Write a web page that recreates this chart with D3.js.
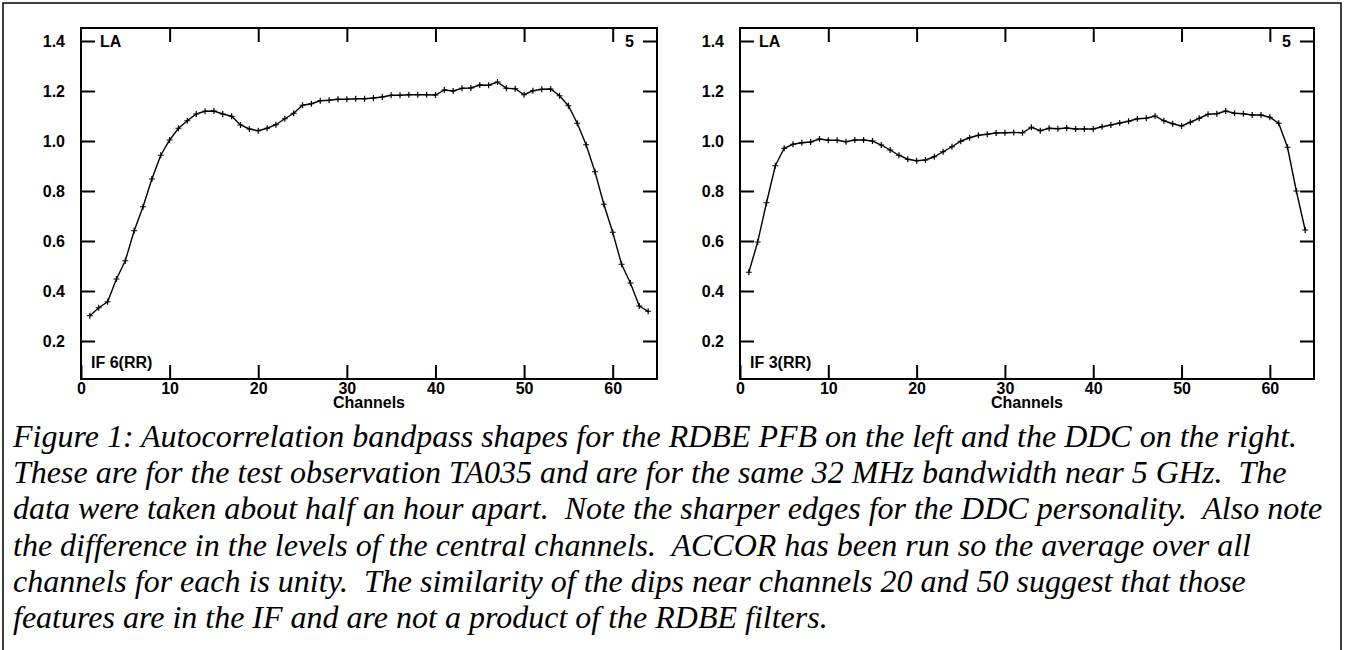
<!DOCTYPE html>
<html>
<head>
<meta charset="utf-8">
<script src="https://cdn.jsdelivr.net/npm/d3@7"></script>
<style>
  body { margin: 0; background: #fff; }
  svg { display: block; }
  .tick text { font-family: "Liberation Sans", Arial, sans-serif; font-weight: bold; font-size: 16px; fill: #000; }
  .tick line { stroke: #000; stroke-width: 2; }
  .lbl { font-family: "Liberation Sans", Arial, sans-serif; font-weight: bold; font-size: 16px; fill: #000; }
  .caption { font-family: "Liberation Serif", "Times New Roman", serif; font-style: italic; font-size: 32px; fill: #000; white-space: pre; }
</style>
</head>
<body>
<div id="vis"></div>
<script>
// Data ----------------------------------------------------------------------

var channels = d3.range(1, 65);

// IF 6 (RR), RDBE PFB
var pfbValues = [
  0.301, 0.333, 0.357, 0.448, 0.521, 0.641, 0.737, 0.848, 0.943, 1.004,
  1.051, 1.081, 1.108, 1.119, 1.120, 1.108, 1.099, 1.064, 1.048, 1.041,
  1.051, 1.065, 1.089, 1.111, 1.143, 1.149, 1.161, 1.163, 1.167, 1.167,
  1.169, 1.169, 1.172, 1.176, 1.183, 1.183, 1.185, 1.185, 1.185, 1.184,
  1.204, 1.200, 1.211, 1.212, 1.224, 1.223, 1.236, 1.211, 1.209, 1.185,
  1.201, 1.207, 1.208, 1.181, 1.141, 1.071, 0.985, 0.877, 0.747, 0.635,
  0.507, 0.432, 0.340, 0.319
];

// IF 3 (RR), DDC
var ddcValues = [
  0.475, 0.596, 0.753, 0.901, 0.971, 0.987, 0.993, 0.996, 1.008, 1.003,
  1.003, 0.997, 1.004, 1.004, 1.000, 0.984, 0.964, 0.943, 0.927, 0.921,
  0.924, 0.937, 0.957, 0.977, 0.999, 1.013, 1.023, 1.027, 1.032, 1.033,
  1.034, 1.033, 1.055, 1.041, 1.051, 1.049, 1.052, 1.048, 1.048, 1.048,
  1.057, 1.064, 1.072, 1.079, 1.089, 1.091, 1.100, 1.081, 1.069, 1.060,
  1.075, 1.091, 1.107, 1.109, 1.120, 1.111, 1.109, 1.104, 1.104, 1.095,
  1.071, 0.975, 0.800, 0.644
];

var xTicks = [0, 10, 20, 30, 40, 50, 60];
var yTicks = [0.2, 0.4, 0.6, 0.8, 1.0, 1.2, 1.4];

var captionLines = [
  "Figure 1: Autocorrelation bandpass shapes for the RDBE PFB on the left and the DDC on the right.",
  "These are for the test observation TA035 and are for the same 32 MHz bandwidth near 5 GHz.  The",
  "data were taken about half an hour apart.  Note the sharper edges for the DDC personality.  Also note",
  "the difference in the levels of the central channels.  ACCOR has been run so the average over all",
  "channels for each is unity.  The similarity of the dips near channels 20 and 50 suggest that those",
  "features are in the IF and are not a product of the RDBE filters."
];

// Setup ---------------------------------------------------------------------

var width = 1345, height = 650;

var svg = d3.select("#vis").append("svg")
  .attr("width", width)
  .attr("height", height);

// outer frame (open at the bottom)
svg.append("path")
  .attr("d", "M3,650 V3 H1341 V650")
  .attr("fill", "none")
  .attr("stroke", "#000")
  .attr("stroke-width", 1.5);

var plotTop = 28, plotBottom = 379;

var panels = [
  {left: 81, right: 657, values: pfbValues, name: "IF 6(RR)"},
  {left: 740, right: 1314, values: ddcValues, name: "IF 3(RR)"}
];

// Draw panels ---------------------------------------------------------------

function drawPanel(p) {

  var x = d3.scaleLinear().domain([0, 65]).range([p.left, p.right]);
  var y = d3.scaleLinear().domain([0.048, 1.452]).range([plotBottom, plotTop]);

  var g = svg.append("g");

  g.append("g")
    .attr("transform", "translate(" + p.left + ",0)")
    .call(d3.axisLeft(y).tickValues(yTicks).tickSize(-14).tickPadding(16)
      .tickFormat(d3.format(".1f")));

  g.append("g")
    .attr("transform", "translate(" + p.right + ",0)")
    .call(d3.axisRight(y).tickValues(yTicks).tickSize(-14).tickFormat(""));

  g.append("g")
    .attr("transform", "translate(0," + plotBottom + ")")
    .call(d3.axisBottom(x).tickValues(xTicks).tickSize(-14).tickPadding(4)
      .tickFormat(d3.format("d")));

  g.append("g")
    .attr("transform", "translate(0," + plotTop + ")")
    .call(d3.axisTop(x).tickValues(xTicks.slice(1)).tickSize(-14).tickFormat(""));

  g.selectAll(".domain").remove();

  g.append("rect")
    .attr("x", p.left)
    .attr("y", plotTop)
    .attr("width", p.right - p.left)
    .attr("height", plotBottom - plotTop)
    .attr("fill", "none")
    .attr("stroke", "#000")
    .attr("stroke-width", 2);

  // labels
  g.append("text").attr("class", "lbl")
    .attr("x", p.left + 19).attr("y", y(1.4) + 6)
    .text("LA");

  g.append("text").attr("class", "lbl")
    .attr("x", p.right - 23).attr("y", y(1.4) + 6)
    .attr("text-anchor", "end")
    .text("5");

  g.append("text").attr("class", "lbl")
    .attr("x", p.left + 10).attr("y", plotBottom - 11)
    .text(p.name);

  g.append("text").attr("class", "lbl")
    .attr("x", (p.left + p.right) / 2).attr("y", plotBottom + 29)
    .attr("text-anchor", "middle")
    .text("Channels");

  // data
  var line = d3.line()
    .x(function(d, i) { return x(channels[i]); })
    .y(function(d) { return y(d); });

  g.append("path")
    .datum(p.values)
    .attr("d", line)
    .attr("fill", "none")
    .attr("stroke", "#000")
    .attr("stroke-width", 1.4);

  g.selectAll(".mark")
    .data(p.values)
    .enter()
    .append("path")
    .attr("class", "mark")
    .attr("d", function(d, i) {
      var cx = x(channels[i]), cy = y(d);
      return "M" + (cx - 3) + "," + cy + "H" + (cx + 3) + "M" + cx + "," + (cy - 3) + "V" + (cy + 3);
    })
    .attr("stroke", "#000")
    .attr("stroke-width", 1.2);
}

panels.forEach(drawPanel);

// Caption -------------------------------------------------------------------

svg.selectAll(".caption")
  .data(captionLines)
  .enter()
  .append("text")
  .attr("class", "caption")
  .attr("x", 13)
  .attr("y", function(d, i) { return 447 + i * 36.2; })
  .text(function(d) { return d; });
</script>
</body>
</html>
